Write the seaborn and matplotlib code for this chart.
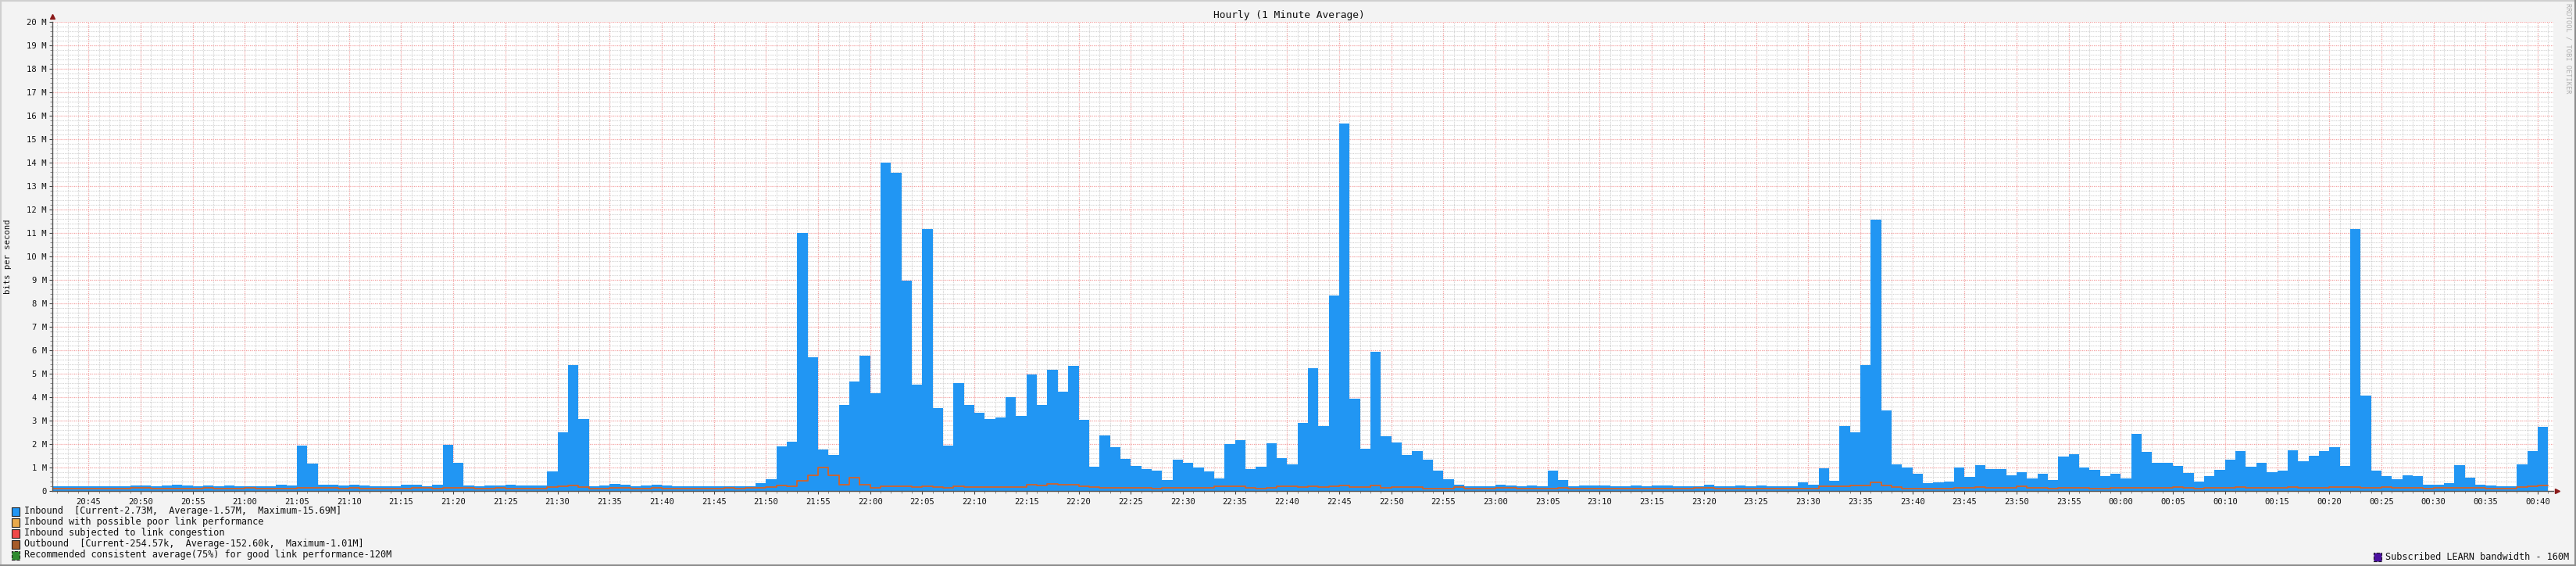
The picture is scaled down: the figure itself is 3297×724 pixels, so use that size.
import numpy as np
import pandas as pd
import matplotlib
matplotlib.use("Agg")
import matplotlib.pyplot as plt
import seaborn as sns
from matplotlib.ticker import MultipleLocator, FuncFormatter, FixedLocator
from matplotlib.patches import Rectangle

# ---------------- data (Mbit/s, one value per minute, 20:41 .. 00:40) ----------------
first_minute = 41  # minutes after 20:00 of the first bar (20:41)

inbound_2041_2059 = [0.20, 0.20, 0.20, 0.20, 0.20, 0.20, 0.20, 0.20, 0.25, 0.25,
                     0.20, 0.25, 0.29, 0.25, 0.20, 0.25, 0.20, 0.25, 0.20]
inbound_21 = [0.20, 0.20, 0.20, 0.28, 0.25, 1.95, 1.18, 0.28, 0.28, 0.25,
              0.28, 0.25, 0.20, 0.20, 0.20, 0.28, 0.28, 0.20, 0.28, 1.98,
              1.22, 0.25, 0.21, 0.25, 0.25, 0.28, 0.25, 0.25, 0.25, 0.84,
              2.51, 5.39, 3.09, 0.21, 0.25, 0.31, 0.28, 0.21, 0.25, 0.28,
              0.25, 0.21, 0.21, 0.21, 0.21, 0.21, 0.21, 0.21, 0.21, 0.35,
              0.52, 1.91, 2.12, 11.01, 5.71, 1.78, 1.54, 3.67, 4.68, 5.78]
inbound_22 = [4.19, 14.01, 13.58, 8.98, 4.56, 11.18, 3.55, 1.96, 4.61, 3.67,
              3.35, 3.09, 3.14, 4.01, 3.21, 4.98, 3.67, 5.18, 4.25, 5.34,
              3.04, 1.05, 2.38, 1.88, 1.37, 1.08, 0.93, 0.88, 0.48, 1.35,
              1.22, 1.01, 0.84, 0.55, 2.02, 2.17, 0.95, 1.05, 2.05, 1.42,
              1.15, 2.92, 5.25, 2.78, 8.35, 15.69, 3.93, 1.81, 5.95, 2.34,
              2.08, 1.54, 1.71, 1.35, 0.88, 0.52, 0.28, 0.21, 0.21, 0.21]
inbound_23 = [0.28, 0.25, 0.21, 0.25, 0.21, 0.88, 0.48, 0.21, 0.25, 0.25,
              0.25, 0.21, 0.21, 0.25, 0.21, 0.25, 0.25, 0.21, 0.21, 0.21,
              0.28, 0.21, 0.21, 0.25, 0.21, 0.25, 0.21, 0.21, 0.21, 0.38,
              0.28, 0.98, 0.45, 2.78, 2.51, 5.39, 11.57, 3.45, 1.15, 1.01,
              0.74, 0.35, 0.38, 0.42, 1.01, 0.62, 1.11, 0.95, 0.95, 0.69,
              0.81, 0.55, 0.74, 0.48, 1.49, 1.58, 1.01, 0.91, 0.65, 0.74]
inbound_00 = [0.55, 2.44, 1.68, 1.22, 1.22, 1.08, 0.79, 0.42, 0.65, 0.91,
              1.35, 1.71, 1.05, 1.22, 0.81, 0.88, 1.75, 1.28, 1.51, 1.71,
              1.88, 1.08, 11.18, 4.08, 0.88, 0.65, 0.52, 0.69, 0.65, 0.28,
              0.28, 0.35, 1.11, 0.58, 0.28, 0.25, 0.21, 0.21, 1.15, 1.71, 2.73]

outbound_2041_2059 = [0.10, 0.10, 0.10, 0.10, 0.10, 0.10, 0.10, 0.10, 0.14, 0.14,
                      0.10, 0.10, 0.10, 0.10, 0.10, 0.14, 0.10, 0.10, 0.10]
outbound_21 = [0.14, 0.10, 0.10, 0.10, 0.10, 0.14, 0.14, 0.14, 0.14, 0.10,
               0.14, 0.10, 0.10, 0.10, 0.10, 0.10, 0.14, 0.14, 0.10, 0.14,
               0.14, 0.14, 0.10, 0.10, 0.14, 0.10, 0.10, 0.10, 0.10, 0.17,
               0.22, 0.25, 0.18, 0.10, 0.10, 0.14, 0.14, 0.10, 0.10, 0.14,
               0.10, 0.10, 0.10, 0.10, 0.10, 0.10, 0.14, 0.10, 0.14, 0.14,
               0.17, 0.25, 0.21, 0.43, 0.67, 1.01, 0.67, 0.29, 0.58, 0.29]
outbound_22 = [0.14, 0.22, 0.22, 0.22, 0.18, 0.22, 0.18, 0.14, 0.22, 0.18,
               0.18, 0.18, 0.18, 0.18, 0.18, 0.28, 0.25, 0.32, 0.28, 0.28,
               0.21, 0.18, 0.14, 0.14, 0.14, 0.14, 0.14, 0.10, 0.14, 0.14,
               0.14, 0.14, 0.14, 0.21, 0.21, 0.21, 0.14, 0.10, 0.14, 0.21,
               0.21, 0.18, 0.21, 0.18, 0.21, 0.24, 0.18, 0.18, 0.24, 0.15,
               0.18, 0.18, 0.18, 0.11, 0.11, 0.11, 0.18, 0.10, 0.10, 0.10]
outbound_23 = [0.15, 0.14, 0.10, 0.10, 0.10, 0.10, 0.14, 0.10, 0.10, 0.10,
               0.10, 0.10, 0.10, 0.10, 0.10, 0.10, 0.10, 0.10, 0.10, 0.14,
               0.14, 0.10, 0.10, 0.10, 0.10, 0.10, 0.10, 0.10, 0.10, 0.10,
               0.10, 0.21, 0.21, 0.21, 0.25, 0.25, 0.38, 0.25, 0.18, 0.12,
               0.12, 0.12, 0.12, 0.12, 0.14, 0.14, 0.18, 0.14, 0.14, 0.14,
               0.21, 0.14, 0.14, 0.10, 0.14, 0.14, 0.14, 0.10, 0.10, 0.14]
outbound_00 = [0.14, 0.14, 0.14, 0.14, 0.14, 0.18, 0.14, 0.10, 0.14, 0.14,
               0.14, 0.18, 0.14, 0.14, 0.14, 0.14, 0.18, 0.14, 0.14, 0.14,
               0.18, 0.18, 0.18, 0.14, 0.14, 0.18, 0.14, 0.14, 0.14, 0.10,
               0.14, 0.14, 0.14, 0.14, 0.14, 0.10, 0.10, 0.10, 0.18, 0.21, 0.25]

x_tick_labels = ["20:45", "20:50", "20:55", "21:00", "21:05", "21:10", "21:15", "21:20",
                 "21:25", "21:30", "21:35", "21:40", "21:45", "21:50", "21:55", "22:00",
                 "22:05", "22:10", "22:15", "22:20", "22:25", "22:30", "22:35", "22:40",
                 "22:45", "22:50", "22:55", "23:00", "23:05", "23:10", "23:15", "23:20",
                 "23:25", "23:30", "23:35", "23:40", "23:45", "23:50", "23:55", "00:00",
                 "00:05", "00:10", "00:15", "00:20", "00:25", "00:30", "00:35", "00:40"]

title = "Hourly (1 Minute Average)"
legend_rows = [
    ("#2196F3", "Inbound  [Current-2.73M,  Average-1.57M,  Maximum-15.69M]"),
    ("#E8A94A", "Inbound with possible poor link performance"),
    ("#F04848", "Inbound subjected to link congestion"),
    ("#A65C2A", "Outbound  [Current-254.57k,  Average-152.60k,  Maximum-1.01M]"),
    ("#2E8B2E", "Recommended consistent average(75%) for good link performance-120M"),
]
subscribed_label = "Subscribed LEARN bandwidth - 160M"

# ---------------- assemble ----------------
inbound = inbound_2041_2059 + inbound_21 + inbound_22 + inbound_23 + inbound_00
outbound = outbound_2041_2059 + outbound_21 + outbound_22 + outbound_23 + outbound_00
n = len(inbound)
minutes = first_minute + np.arange(n)
df = pd.DataFrame({"mid": minutes + 0.5, "inbound": inbound})
df_out = pd.DataFrame({"edge": np.append(minutes, minutes[-1] + 1),
                       "outbound": outbound + [outbound[-1]]})

def label_to_minute(s):
    h, m = map(int, s.split(":"))
    if h < 12:
        h += 24
    return (h - 20) * 60 + m

tick_pos = [label_to_minute(s) for s in x_tick_labels]

# ---------------- figure ----------------
W, H = 3297, 724
sns.set_theme(style="white")
plt.rcParams["font.family"] = ["DejaVu Sans Mono", "DejaVu Sans"]

fig = plt.figure(figsize=(W / 100, H / 100), dpi=100, facecolor="#F3F3F3")

def fx(px):
    return px / W

def fy(py):
    return 1 - py / H

left_px, right_px, top_px, bot_px = 66.6, 3268, 28.2, 628.4
ax = fig.add_axes([fx(left_px), fy(bot_px), fx(right_px - left_px), (bot_px - top_px) / H])
ax.set_facecolor("white")

sns.barplot(data=df, x="mid", y="inbound", native_scale=True, width=1.0, ax=ax,
            color="#2196F3", saturation=1, linewidth=0, errorbar=None, zorder=3)
sns.lineplot(data=df_out, x="edge", y="outbound", drawstyle="steps-post", ax=ax,
             color="#D2622A", linewidth=1.3, estimator=None, zorder=4)

ax.set_xlim(41.5, 281.5)
ax.set_ylim(0, 20)

ax.xaxis.set_major_locator(FixedLocator(tick_pos))
ax.set_xticklabels(x_tick_labels)
ax.xaxis.set_minor_locator(MultipleLocator(1))
ax.yaxis.set_major_locator(MultipleLocator(1))
ax.yaxis.set_minor_locator(MultipleLocator(0.2))
ax.yaxis.set_major_formatter(FuncFormatter(lambda v, p: "0" if v == 0 else f"{int(round(v))} M"))

ax.grid(which="minor", color="#D2D2D2", linestyle=(0, (1, 1)), linewidth=0.8, zorder=1)
ax.grid(which="major", color="#F4A2A2", linestyle=(0, (1, 1)), linewidth=0.9, zorder=2)
ax.set_axisbelow(True)

ax.tick_params(axis="both", which="major", labelsize=7.6, colors="#444444",
               labelcolor="#111111", length=3, width=0.8, direction="out", pad=2,
               bottom=True, left=True)
ax.tick_params(axis="both", which="minor", length=2, width=0.6, colors="#777777",
               direction="out", bottom=True, left=True)
ax.tick_params(axis="x", which="major", pad=3)

for s in ["top", "right"]:
    ax.spines[s].set_visible(False)
for s in ["left", "bottom"]:
    ax.spines[s].set_color("#555555")
    ax.spines[s].set_linewidth(1.0)
    ax.spines[s].set_zorder(6)

ax.set_xlabel("")
ax.set_ylabel("bits per second", fontsize=7.6, color="#111111", labelpad=14)

# axis arrows (decoration)
ax.plot([0], [1.012], marker="^", color="#8B1A1A", markersize=5, transform=ax.transAxes,
        clip_on=False, zorder=7)
ax.plot([1.0015], [0], marker=">", color="#8B1A1A", markersize=5, transform=ax.transAxes,
        clip_on=False, zorder=7)

# title
fig.text(fx(1650), fy(19), title, ha="center", va="center", fontsize=9.3, color="#111111")

# vertical watermark
fig.text(fx(3287), fy(4), "RRDTOOL / TOBI OETIKER", rotation=270, ha="center", va="top",
         fontsize=6.2, color="#B0B0B0")

# legend
row_y = [654, 668, 682, 696, 710]
for (col, txt), y in zip(legend_rows, row_y):
    ls = "--" if "Recommended" in txt else "-"
    fig.patches.append(Rectangle((fx(15), fy(y + 5.5)), fx(10), 11 / H, transform=fig.transFigure,
                                 facecolor=col, edgecolor="#222222", linewidth=0.8, linestyle=ls))
    fig.text(fx(31), fy(y), txt, ha="left", va="center", fontsize=8.6, color="#111111")

fig.patches.append(Rectangle((fx(3038), fy(717.5)), fx(10), 11 / H, transform=fig.transFigure,
                             facecolor="#4B10A0", edgecolor="#222222", linewidth=0.8,
                             linestyle="--"))
fig.text(fx(3053), fy(712), subscribed_label, ha="left", va="center", fontsize=8.6,
         color="#111111")

# image border (3D shade)
fig.patches.append(Rectangle((0, 0), 1, 1, transform=fig.transFigure, fill=False,
                             edgecolor="#CFCFCF", linewidth=3))
fig.patches.append(Rectangle((0, 0), 1, 2.5 / H, transform=fig.transFigure,
                             facecolor="#8C8C8C", edgecolor="none"))
fig.patches.append(Rectangle((1 - 2.5 / W, 0), 2.5 / W, 1, transform=fig.transFigure,
                             facecolor="#8C8C8C", edgecolor="none"))

fig.savefig("out.png", dpi=100, facecolor=fig.get_facecolor())
